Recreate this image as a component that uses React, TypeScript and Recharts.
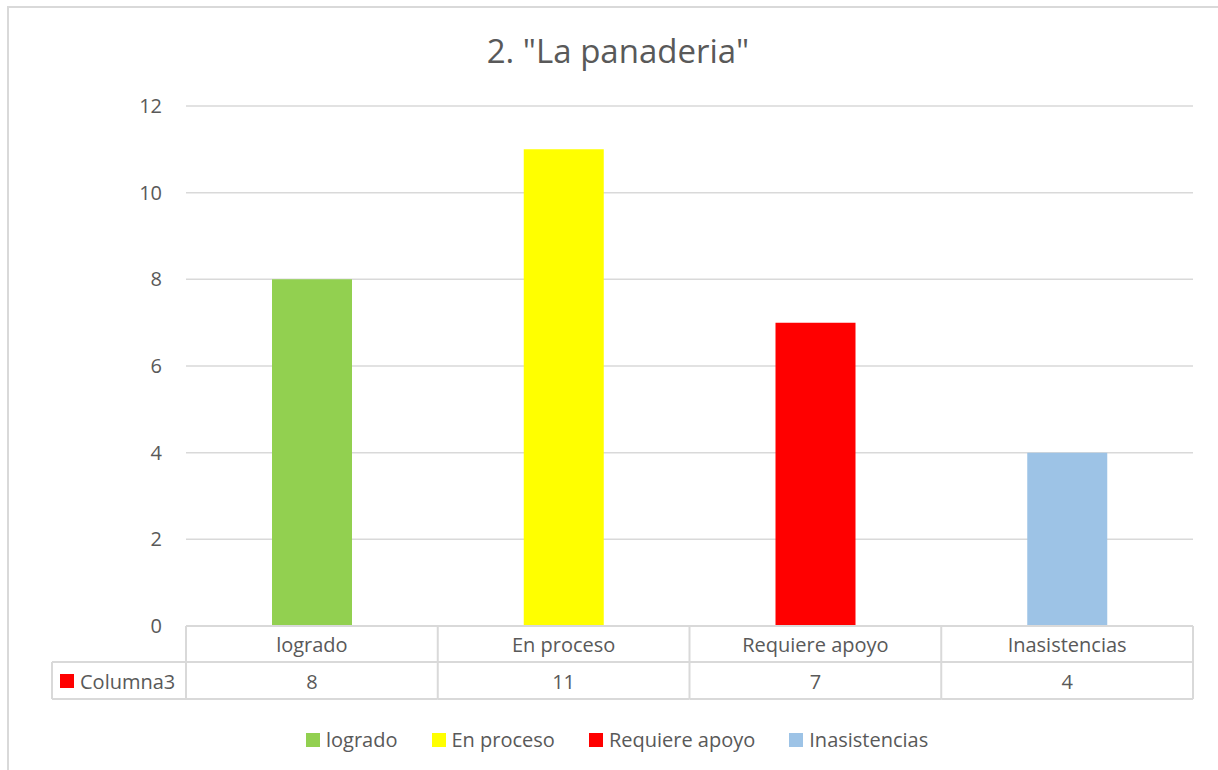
import React from 'react';
import { BarChart, Bar, XAxis, YAxis, CartesianGrid, Cell, Legend } from 'recharts';

const categories: string[] = ['logrado', 'En proceso', 'Requiere apoyo', 'Inasistencias'];
const values: number[] = [8, 11, 7, 4];
const colors: string[] = ['#92D050', '#FFFF00', '#FF0000', '#9DC3E6'];
const yTicks: number[] = [0, 2, 4, 6, 8, 10, 12];
const seriesName = 'Columna3';
const seriesColor = '#FF0000';
const title = '2. "La panaderia"';

const data = categories.map((c, i) => ({ name: c, value: values[i] }));

const FONT = '"Open Sans", sans-serif';
const TEXT = '#595959';
const LINE = '#d9d9d9';
const ROW1 = 36;
const ROW2 = 73;

const TableTick = (props: any) => {
  const { x, y, payload, index, width } = props;
  const n = categories.length;
  const bw = (typeof width === 'number' && width > 0 ? width : 1007) / n;
  const left = x - bw / 2;
  const right = x + bw / 2;
  const keyLeft = 52;
  return (
    <g>
      <line x1={left} x2={left} y1={y} y2={y + ROW2} stroke={LINE} strokeWidth={2} />
      {index === n - 1 && (
        <line x1={right} x2={right} y1={y} y2={y + ROW2} stroke={LINE} strokeWidth={2} />
      )}
      <line x1={index === 0 ? keyLeft : left} x2={right} y1={y + ROW1} y2={y + ROW1} stroke={LINE} strokeWidth={2} />
      <line x1={index === 0 ? keyLeft : left} x2={right} y1={y + ROW2} y2={y + ROW2} stroke={LINE} strokeWidth={2} />
      {index === 0 && (
        <g>
          <line x1={keyLeft} x2={keyLeft} y1={y + ROW1} y2={y + ROW2} stroke={LINE} strokeWidth={2} />
          <rect x={60} y={y + 48} width={14} height={14} fill={seriesColor} />
          <text x={80} y={y + 55} fill={TEXT} fontSize={20} fontFamily={FONT} dominantBaseline="central">
            {seriesName}
          </text>
        </g>
      )}
      <text x={x} y={y + 18} textAnchor="middle" dominantBaseline="central" fill={TEXT} fontSize={20} fontFamily={FONT}>
        {payload.value}
      </text>
      <text x={x} y={y + 55} textAnchor="middle" dominantBaseline="central" fill={TEXT} fontSize={20} fontFamily={FONT}>
        {values[index]}
      </text>
    </g>
  );
};

const LegendContent = () => (
  <div style={{ display: 'flex', alignItems: 'center', fontFamily: FONT, fontSize: 20, color: TEXT, whiteSpace: 'nowrap' }}>
    {categories.map((c, i) => (
      <div key={c} style={{ display: 'flex', alignItems: 'center', marginRight: 34 }}>
        <span style={{ width: 14, height: 14, background: colors[i], display: 'inline-block', marginRight: 6 }} />
        <span>{c}</span>
      </div>
    ))}
  </div>
);

export default function App() {
  return (
    <div style={{ position: 'absolute', left: 0, top: 0, width: 1218, height: 770, background: '#fff', overflow: 'hidden' }}>
      <div style={{ position: 'absolute', left: 7, top: 6, width: 1240, height: 800, borderLeft: `2px solid ${LINE}`, borderTop: `2px solid ${LINE}`, boxSizing: 'border-box' }} />
      <div style={{ position: 'absolute', left: 0, top: 28, width: 1236, textAlign: 'center', fontFamily: FONT, fontSize: 33, color: TEXT }}>
        {title}
      </div>
      <div style={{ position: 'absolute', left: 0, top: 0 }}>
        <BarChart width={1218} height={770} data={data} margin={{ top: 106, right: 25, bottom: 143, left: 126 }}>
          <CartesianGrid vertical={false} stroke={LINE} strokeWidth={1.5} />
          <YAxis
            width={60}
            domain={[0, 12]}
            ticks={yTicks}
            interval={0}
            axisLine={false}
            tickLine={false}
            tickMargin={18}
            tick={{ fill: TEXT, fontSize: 20, fontFamily: FONT }}
          />
          <XAxis
            dataKey="name"
            height={1}
            interval={0}
            tickLine={false}
            tickSize={0}
            tickMargin={0}
            axisLine={{ stroke: LINE, strokeWidth: 2 }}
            tick={<TableTick />}
          />
          <Legend
            layout="horizontal"
            verticalAlign="middle"
            align="center"
            content={<LegendContent />}
            wrapperStyle={{ position: 'absolute', top: 726, left: 306, width: 'auto', bottom: 'auto' }}
          />
          <Bar dataKey="value" name={seriesName} barSize={80} isAnimationActive={false}>
            {data.map((d, i) => (
              <Cell key={d.name} fill={colors[i]} />
            ))}
          </Bar>
        </BarChart>
      </div>
    </div>
  );
}
